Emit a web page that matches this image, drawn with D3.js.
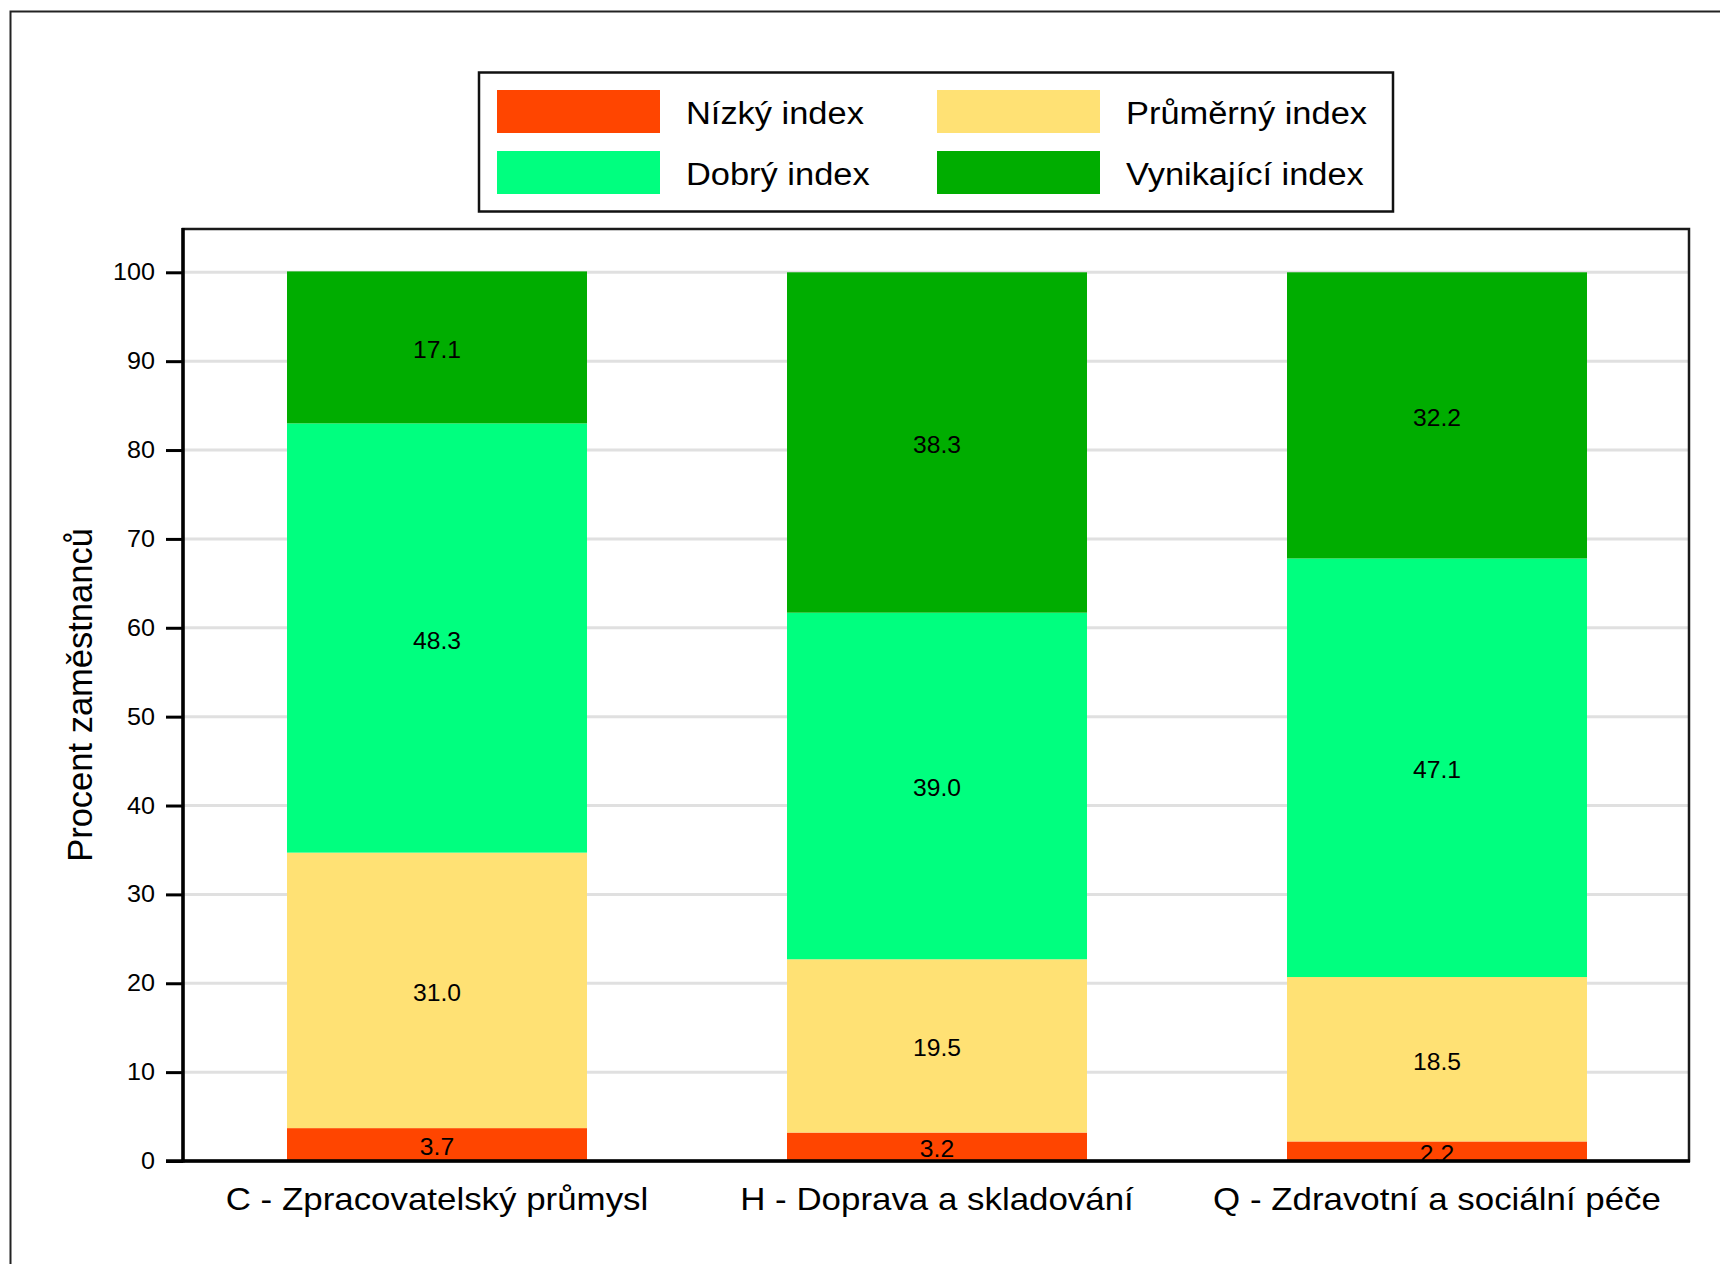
<!DOCTYPE html>
<html>
<head>
<meta charset="utf-8">
<script src="https://cdn.jsdelivr.net/npm/d3@7"></script>
<style>
  body { margin: 0; background: #fff; }
  text { font-family: "Liberation Sans", Arial, sans-serif; fill: #000; }
</style>
</head>
<body>
<div id="chart"></div>
<script>
// data
var categories = ['C - Zpracovatelský průmysl', 'H - Doprava a skladování', 'Q - Zdravotní a sociální péče']
var seriesNames = ['Nízký index', 'Průměrný index', 'Dobrý index', 'Vynikající index']
var nizky = [3.7, 3.2, 2.2]
var prumerny = [31.0, 19.5, 18.5]
var dobry = [48.3, 39.0, 47.1]
var vynikajici = [17.1, 38.3, 32.2]
var yTicks = [0, 10, 20, 30, 40, 50, 60, 70, 80, 90, 100]
var colors = ['#FF4500', '#FFE174', '#00FF7F', '#00AD00']

var W = 1720, H = 1264
var plot = { left: 183, right: 1689, top: 229, bottom: 1161 }

// build rows for d3.stack
var rows = categories.map(function(c, i) {
  return { cat: c, 'Nízký index': nizky[i], 'Průměrný index': prumerny[i], 'Dobrý index': dobry[i], 'Vynikající index': vynikajici[i] }
})
var stacked = d3.stack().keys(seriesNames)(rows)

// horizontal text stretch, the source font renders a bit wider than Arial
function stretch(sel, k) {
  sel.each(function() {
    var w = this.getComputedTextLength()
    d3.select(this).attr('textLength', w * k).attr('lengthAdjust', 'spacingAndGlyphs')
  })
}

var svg = d3.select('#chart').append('svg').attr('width', W).attr('height', H)

// outer frame (runs off the right and bottom edge)
svg.append('rect')
  .attr('x', 10.5).attr('y', 11.5).attr('width', W).attr('height', H)
  .attr('fill', 'none').attr('stroke', '#222').attr('stroke-width', 2)

// bars sit a little inside the plot frame, 500px apart
var x = d3.scaleBand()
  .domain(categories)
  .range([plot.left + 4, plot.right - 2])
  .paddingInner(0.4)
  .paddingOuter(0.2)

var y = d3.scaleLinear()
  .domain([0, 100])
  .range([plot.bottom, plot.top + 43.3])

// gridlines
svg.append('g')
  .selectAll('line')
  .data(yTicks)
  .enter()
  .append('line')
  .attr('x1', plot.left).attr('x2', plot.right)
  .attr('y1', function(d) { return y(d) }).attr('y2', function(d) { return y(d) })
  .attr('stroke', '#e0e0e0').attr('stroke-width', 3)

// bars
var layers = svg.append('g')
  .selectAll('g')
  .data(stacked)
  .enter()
  .append('g')
  .attr('fill', function(d, i) { return colors[i] })

layers.selectAll('rect')
  .data(function(d) { return d })
  .enter()
  .append('rect')
  .attr('x', function(d) { return x(d.data.cat) })
  .attr('width', x.bandwidth())
  .attr('y', function(d) { return y(d[1]) })
  .attr('height', function(d) { return y(d[0]) - y(d[1]) })

// value labels
var vals = svg.append('g')
  .selectAll('g')
  .data(stacked)
  .enter()
  .append('g')
  .selectAll('text')
  .data(function(d) { return d })
  .enter()
  .append('text')
  .attr('x', function(d) { return x(d.data.cat) + x.bandwidth() / 2 })
  .attr('y', function(d) { return y((d[0] + d[1]) / 2) })
  .attr('dy', 2.5)
  .attr('text-anchor', 'middle')
  .attr('dominant-baseline', 'central')
  .style('font-size', '23.5px')
  .text(function(d) { return (d[1] - d[0]).toFixed(1) })
stretch(vals, 1.05)

// plot frame
svg.append('rect')
  .attr('x', plot.left).attr('y', plot.top)
  .attr('width', plot.right - plot.left).attr('height', plot.bottom - plot.top)
  .attr('fill', 'none').attr('stroke', '#1a1a1a').attr('stroke-width', 2.5)

// y axis
var yAxis = d3.axisLeft(y).tickValues(yTicks).tickSize(17).tickPadding(11)
var gy = svg.append('g').attr('transform', 'translate(' + plot.left + ',0)').call(yAxis)
gy.select('.domain').remove()
gy.selectAll('.tick line').attr('stroke', '#000').attr('stroke-width', 3)
gy.selectAll('.tick text').style('font-size', '23.5px').attr('fill', '#000')
stretch(gy.selectAll('.tick text'), 1.07)

// heavy left and bottom axis lines
svg.append('line')
  .attr('x1', plot.left).attr('x2', plot.left)
  .attr('y1', plot.top - 1).attr('y2', plot.bottom + 1.5)
  .attr('stroke', '#000').attr('stroke-width', 3.5)
svg.append('line')
  .attr('x1', plot.left - 17).attr('x2', plot.right + 1)
  .attr('y1', plot.bottom).attr('y2', plot.bottom)
  .attr('stroke', '#000').attr('stroke-width', 3.5)

// x labels
var xl = svg.append('g')
  .selectAll('text')
  .data(categories)
  .enter()
  .append('text')
  .attr('x', function(d) { return x(d) + x.bandwidth() / 2 })
  .attr('y', 1210)
  .attr('text-anchor', 'middle')
  .style('font-size', '32px')
  .text(function(d) { return d })
stretch(xl, 1.09)

// y title
svg.append('text')
  .attr('transform', 'translate(92,' + (plot.top + plot.bottom) / 2 + ') rotate(-90)')
  .attr('text-anchor', 'middle')
  .style('font-size', '34.5px')
  .text('Procent zaměstnanců')

// legend
var legend = svg.append('g')
legend.append('rect')
  .attr('x', 479).attr('y', 72.5).attr('width', 914).attr('height', 139)
  .attr('fill', '#fff').attr('stroke', '#111').attr('stroke-width', 2.5)

var items = legend.selectAll('g.item')
  .data(seriesNames)
  .enter()
  .append('g')
  .attr('class', 'item')
  .attr('transform', function(d, i) {
    return 'translate(' + (497 + (i % 2) * 440) + ',' + (90 + Math.floor(i / 2) * 61) + ')'
  })
items.append('rect')
  .attr('width', 163).attr('height', 43)
  .attr('fill', function(d, i) { return colors[i] })
var lt = items.append('text')
  .attr('x', 189).attr('y', 34)
  .style('font-size', '31px')
  .text(function(d) { return d })
stretch(lt, 1.11)
</script>
</body>
</html>
